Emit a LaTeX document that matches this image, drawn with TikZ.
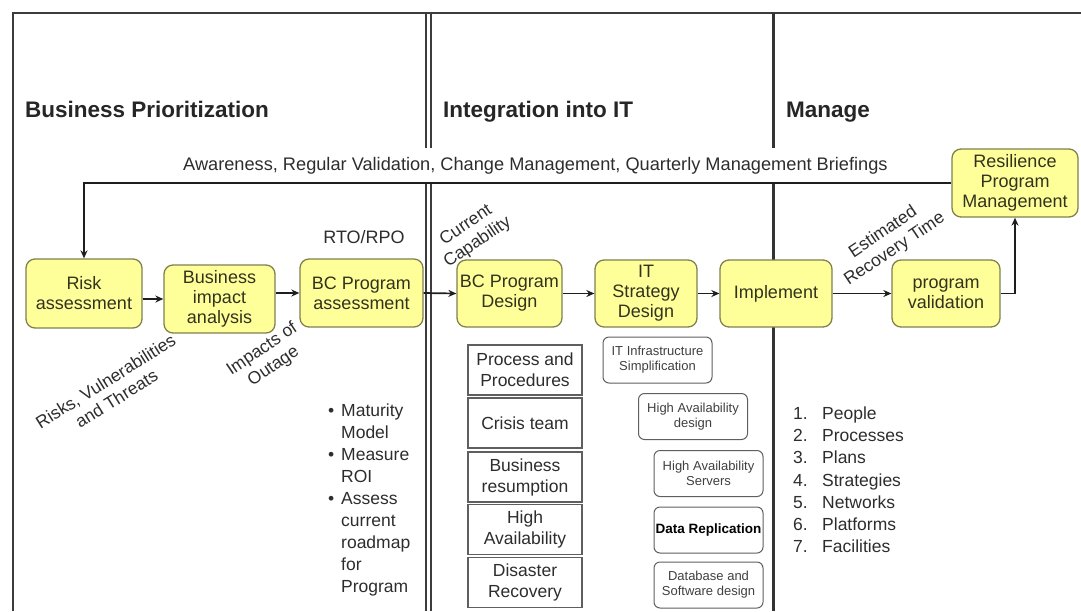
\documentclass[tikz,border=0pt]{standalone}
\usepackage{fontspec}
\setmainfont{Liberation Sans}
\usetikzlibrary{arrows.meta}
\definecolor{boxfill}{RGB}{255,255,153}
\definecolor{boxedge}{RGB}{128,128,80}
\definecolor{boxtext}{RGB}{50,50,30}
\definecolor{linecol}{RGB}{30,30,30}
\definecolor{framecol}{RGB}{60,60,60}
\definecolor{txtcol}{RGB}{45,45,45}
\definecolor{greyedge}{RGB}{95,95,95}
\begin{document}
\begin{tikzpicture}[x=1pt,y=-1pt,
  ybox/.style={draw=boxedge, fill=boxfill, rounded corners=9pt, line width=1.3pt,
    align=center, inner sep=0pt, text=boxtext, font=\fontsize{18}{20}\selectfont},
  sz/.style 2 args={minimum width=#1pt, minimum height=#2pt},
  gbox/.style={draw=greyedge, fill=white, line width=1.1pt, align=center, inner sep=0pt,
    minimum width=114pt, minimum height=50pt, text=txtcol, font=\fontsize{17.5}{21}\selectfont},
  sbox/.style={draw=greyedge, fill=white, rounded corners=6pt, line width=1pt, align=center,
    inner sep=0pt, minimum width=109pt, minimum height=46pt, text=black!75,
    font=\fontsize{13}{15}\selectfont},
  arr/.style={draw=linecol, line width=1.7pt, -{Stealth[length=8pt,width=7pt]}},
  fb/.style={draw=linecol, line width=2pt},
  title/.style={anchor=base west, inner sep=0pt, font=\fontsize{22.5}{26}\selectfont\bfseries, text=black!85},
  lbl/.style={text=txtcol, font=\fontsize{17.5}{20}\selectfont, inner sep=0pt},
  rlbl/.style={text=txtcol, font=\fontsize{17.5}{20.5}\selectfont, align=center, inner sep=0pt, rotate=34},
  frame/.style={draw=framecol, line width=2pt},
  divone/.style={draw=framecol, line width=1.4pt},
  divtwo/.style={draw=black!80, line width=3pt}
]
\useasboundingbox (0,0) rectangle (1081,611);

% frame and dividers
\draw[frame] (13,611) -- (13,13) -- (1081,13);
\draw[divone] (426,13) -- (426,148) (431,13) -- (431,148);
\draw[divone] (426,183) -- (426,611) (431,183) -- (431,611);
\draw[divtwo] (773,13) -- (773,148);
\draw[divtwo] (773,183) -- (773,260);
\draw[divtwo] (773,327) -- (773,611);

% titles
\node[title] (t1) at (25,117) {Business Prioritization};
\node[title] (t2) at (443,117) {Integration into IT};
\node[title] (t3) at (786,117) {Manage};

% feedback label
\node[lbl, anchor=base west, font=\fontsize{18.2}{20}\selectfont] (fbl) at (183,170) {Awareness, Regular Validation, Change Management, Quarterly Management Briefings};

% main boxes
\node[ybox, sz={116}{69}] (risk) at (84,293.5) {Risk\\assessment};
\node[ybox, sz={111}{68}] (bia) at (219.5,299) {Business\\impact\\analysis};
\node[ybox, sz={123}{68}] (bcpa) at (361.5,293) {BC Program\\assessment};
\node[ybox, sz={105}{67}] (bcpd) at (509.5,293.5) {BC Program\\Design};
\node[ybox, sz={102}{67}] (itsd) at (646,293.5) {IT\\Strategy\\Design};
\node[ybox, sz={112}{67}] (impl) at (776,293.5) {Implement};
\node[ybox, sz={108}{67}] (pv) at (946,293.5) {program\\validation};
\node[ybox, sz={126}{68}] (rpm) at (1015,183) {Resilience\\Program\\Management};

% connectors
\draw[arr] (risk.east |- bia) -- (bia.west);
\draw[arr] (bia.east |- bcpa) -- (bcpa.west);
\draw[arr] (bcpa.east) -- (bcpd.west);
\draw[arr] (bcpd.east) -- (itsd.west);
\draw[arr] (itsd.east) -- (impl.west);
\draw[arr] (impl.east) -- (pv.west);
\draw[arr] (pv.east) -| (rpm.south);
\draw[fb] (rpm.west) -| (84,250);
\draw[arr] (84,249) -- (risk.north);

% edge labels
\node[lbl, font=\fontsize{18}{20}\selectfont] (rto) at (364,237) {RTO/RPO};
\node[rlbl, rotate=-2] (rvt) at (111,390) {Risks, Vulnerabilities\\and Threats};
\node[rlbl] (ioo) at (268,358) {Impacts of\\Outage};
\node[rlbl] (ccap) at (472,234) {Current\\Capability};
\node[rlbl] (ert) at (889,241) {Estimated\\Recovery Time};

% bullet list
\foreach \t [count=\i] in {Maturity,Model,Measure,ROI,Assess,current,roadmap,for,Program}
  \node[lbl, anchor=base west] (bl\i) at (341,{416.5+22*(\i-1)}) {\t};
\foreach \k in {1,3,5}
  \node[lbl, anchor=base west] (bu\k) at (328,{416.5+22*(\k-1)}) {\textbullet};

% left column of boxes
\node[gbox] (g1) at (525,370) {Process and\\Procedures};
\node[gbox] (g2) at (525,423) {Crisis team};
\node[gbox] (g3) at (525,477) {Business\\resumption};
\node[gbox] (g4) at (525,529.5) {High\\Availability};
\node[gbox] (g5) at (525,582.5) {Disaster\\Recovery};

% staggered small boxes
\node[sbox] (s1) at (657.5,360) {IT Infrastructure\\Simplification};
\node[sbox] (s2) at (693,416.5) {High Availability\\design};
\node[sbox] (s3) at (708.5,473.5) {High Availability\\Servers};
\node[sbox, font=\fontsize{13.5}{15}\selectfont\bfseries, text=black] (s4) at (708.5,530) {Data Replication};
\node[sbox] (s5) at (708.5,585) {Database and\\Software design};

% numbered list
\foreach \t [count=\i] in {People,Processes,Plans,Strategies,Networks,Platforms,Facilities} {
  \node[lbl, anchor=base west] (nn\i) at (793,{419.5+22.2*(\i-1)}) {\i.};
  \node[lbl, anchor=base west] (nt\i) at (822,{419.5+22.2*(\i-1)}) {\t};
}
\end{tikzpicture}
\end{document}
